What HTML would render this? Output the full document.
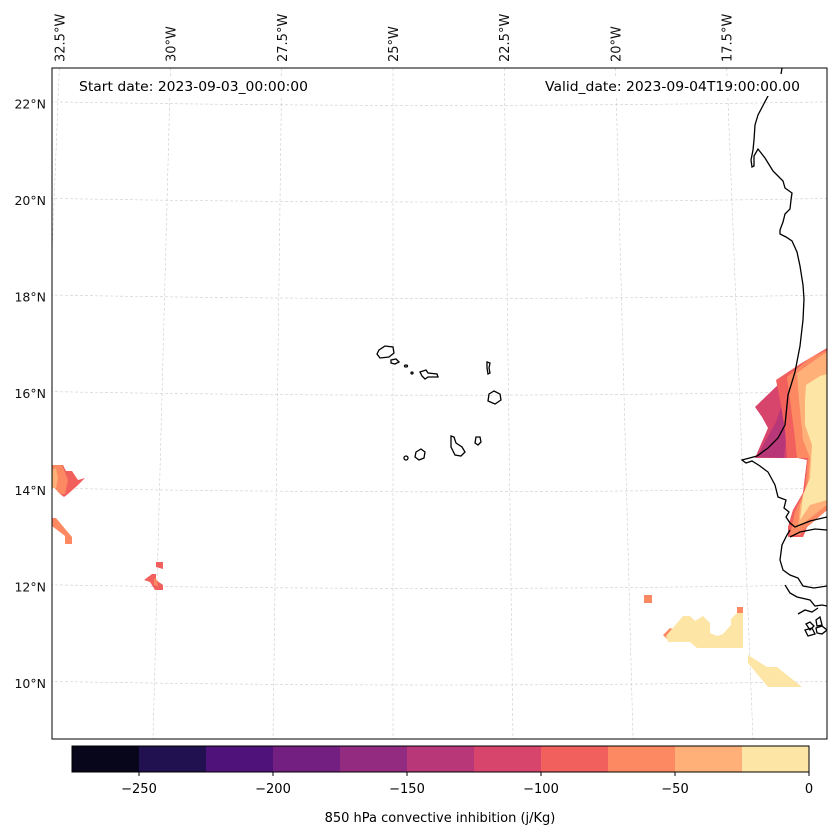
<!DOCTYPE html>
<html><head><meta charset="utf-8"><style>
html,body{margin:0;padding:0;background:#fff}
svg{display:block;font-family:"DejaVu Sans","Liberation Sans",sans-serif}
</style></head><body>
<svg id="c" width="837" height="836" viewBox="0 0 837 836" xmlns="http://www.w3.org/2000/svg">
<defs><clipPath id="mapclip"><rect x="52" y="68" width="775" height="671"/></clipPath></defs>
<rect x="0" y="0" width="837" height="836" fill="#fff"/>
<g id="grid" clip-path="url(#mapclip)"></g>
<g id="fills" clip-path="url(#mapclip)"></g>
<g id="coast" clip-path="url(#mapclip)" fill="none" stroke="#000" stroke-width="1.3"></g>
<rect x="52" y="68" width="775" height="671" fill="none" stroke="#000" stroke-width="1"/>
<g id="labels" font-size="12.5" fill="#111"></g>
<rect x="70" y="76" width="245" height="20" fill="#fff"/>
<text x="79" y="91" font-size="13" textLength="229" lengthAdjust="spacingAndGlyphs">Start date: 2023-09-03_00:00:00</text>
<rect x="538" y="76" width="268" height="20" fill="#fff"/>
<text x="545" y="91" font-size="13" textLength="255" lengthAdjust="spacingAndGlyphs">Valid_date: 2023-09-04T19:00:00.00</text>
<g id="cbar"></g>
<text x="440" y="822" font-size="13" text-anchor="middle">850 hPa convective inhibition (j/Kg)</text>
</svg>
<script>
const levels = [-275,-250,-225,-200,-175,-150,-125,-100,-75,-50,-25,0];
const levelColors = ["#07061a","#221150","#4f127b","#721f81","#932b80","#b73779","#d8456c","#f1605d","#fc8961","#feb078","#fde5a5"];
const cbarTicks = [-250,-200,-150,-100,-50,0];
const latTicks = [10,12,14,16,18,20,22];
const lonTicks = [-32.5,-30,-27.5,-25,-22.5,-20,-17.5];
// filled regions: [bin value, polygon points (screen px of projected grid cells)]
const cinRegions = [
 [-110,[[755,407],[783,380],[800,367],[827,348],[827,510],[807,527],[803,537],[788,537],[788,527],[793,510],[803,493],[807,460],[798,458],[773,458],[755,458],[768,428],[762,417]]],
 [-135,[[757,457],[766,440],[776,422],[784,398],[788,425],[784,458]]],
 [-85,[[776,380],[800,364],[827,348],[827,510],[807,527],[803,537],[788,537],[788,527],[793,510],[803,493],[807,460],[800,458],[787,458],[785,430],[780,400]]],
 [-60,[[787,377],[810,358],[827,350],[827,510],[807,527],[800,535],[790,535],[795,512],[805,490],[808,458],[797,458],[794,430],[790,400]]],
 [-35,[[797,373],[815,360],[827,352],[827,505],[810,518],[798,528],[800,505],[808,485],[810,458],[803,440],[799,400]]],
 [-10,[[806,385],[820,376],[827,374],[827,500],[810,505],[800,520],[803,495],[810,478],[812,445],[805,425],[805,400]]],
 [-60,[[663,635],[670,628],[675,630],[668,640]]],
 [-60,[[737,607],[743,607],[743,613],[737,613]]],
 [-10,[[666,636],[683,616],[690,616],[695,621],[703,616],[710,623],[710,633],[717,636],[723,634],[731,625],[731,619],[737,613],[743,613],[743,648],[697,648],[690,642],[668,642]]],
 [-10,[[748,655],[767,667],[777,667],[802,687],[768,687],[748,663]]],
 [-60,[[644,595],[652,595],[652,603],[644,603]]],
 [-85,[[52,465],[63,465],[66,471],[72,471],[78,480],[85,478],[78,485],[68,494],[64,497],[60,494],[52,485]]],
 [-60,[[52,465],[62,465],[68,480],[65,494],[60,494],[52,485]]],
 [-35,[[52,470],[56,468],[58,478],[56,488],[52,488]]],
 [-60,[[52,518],[56,518],[66,530],[72,537],[72,544],[65,544],[65,536],[52,526]]],
 [-85,[[156,562],[163,562],[163,569],[156,567]]],
 [-85,[[144,580],[152,574],[156,574],[156,580],[163,585],[163,590],[155,590],[150,582]]],
 [-60,[[154,578],[157,580],[158,586],[154,585]]]
];
const NS="http://www.w3.org/2000/svg";
function mk(t,a,p){const e=document.createElementNS(NS,t);for(const k in a)e.setAttribute(k,a[k]);p.appendChild(e);return e;}
const x0=52,x1=827,yTop=68,yBot=739;
function yLat(lat){return 684-(lat-10)*48.3;}
function k(lat){return 48-(lat-8.9)*0.254;}
function xLon(lon,lat){return 393+(lon+25)*k(lat);}
function binColor(v){for(let i=0;i<levels.length-1;i++){if(v>=levels[i]&&v<levels[i+1])return levelColors[i];}return levelColors[levelColors.length-1];}
const g=document.getElementById('grid');
latTicks.forEach(lat=>{
 const yc=yLat(lat);
 const p=mk('path',{d:`M 30 ${yc-3} Q 440 ${yc+5} 850 ${yc-3}`,fill:'none',stroke:'#ccc','stroke-width':0.6,'stroke-dasharray':'3,2'},g);
 
 
});
lonTicks.forEach(lon=>{
 const l=mk('line',{x1:xLon(lon,22.7),y1:yTop,x2:xLon(lon,8.9),y2:yBot,stroke:'#ccc','stroke-width':0.6,'stroke-dasharray':'3,2'},g);
 
 
});
const lb=document.getElementById('labels');
latTicks.forEach(lat=>{
 const t=mk('text',{x:46,y:yLat(lat)+4,'text-anchor':'end'},lb);
 t.textContent=lat+'°N';
 
 
});
lonTicks.forEach(lon=>{
 const xx=xLon(lon,22.7)+5;
 const t=mk('text',{x:0,y:0,transform:`translate(${xx},62) rotate(-90)`,'font-size':13},lb);
 t.textContent=Math.abs(lon)+'°W';
 
 
});
const f=document.getElementById('fills');
cinRegions.forEach(r=>{
 const p=mk('polygon',{points:r[1].map(q=>q.join(',')).join(' '),fill:binColor(r[0])},f);
 
 
});
const c=document.getElementById('coast');
const coastPaths=[
 "M782,68 L781,74 M776,86 L768,96 L758,115 L755,125 L754,140 L753,150 L751,160 L752,167 L754,166 L754,156 L758,149 L765,158 L773,171 L778,176 L783,181 L785,188 L792,193 L791,200 L790,209 L785,214 L783,222 L780,230 L780,234 L786,237 L792,241 L797,252 L800,266 L803,285 L804,299 L803,320 L800,346 L795,372 L788,395 L785,425 L778,438 L768,448 L757,456 L742,460 L746,463 L752,461 L760,466 L768,472 L775,485 L778,497 L786,500 L784,508 L789,512 L786,517 L790,523 L795,527 L810,521 L827,517",
 "M790,537 L800,532 L815,529 L827,530 M790,530 L787,535 L782,545 L780,560 L783,570 L790,575 L798,578 L803,586 L814,588 L827,586 M785,585 L790,593 L797,597 L810,600 L815,606 L822,605 L827,606",
 "M798,614 L805,610 L812,612 L818,608 M806,624 L810,622 L814,626 L810,630 Z M816,620 L820,617 L822,625 L817,626 Z M805,630 L812,628 L815,634 L808,636 Z M816,628 L822,626 L827,630 L822,634 L817,633 Z",
 "M379,350 L385,346 L393,347 L394,353 L389,357 L380,358 L377,354 Z",
 "M391,360 L396,359 L399,362 L395,364 L391,363 Z",
 "M420,372 L426,370 L428,373 L437,374 L438,377 L428,377 L425,379 L422,376 Z",
 "M487,362 L490,363 L489,368 L490,373 L488,374 L487,368 Z",
 "M489,394 L494,391 L500,394 L501,400 L495,404 L488,401 Z",
 "M476,437 L480,437 L481,442 L478,445 L475,443 Z",
 "M451,436 L454,437 L456,443 L462,447 L465,452 L461,456 L455,455 L451,447 Z",
 "M416,452 L421,449 L425,452 L424,458 L419,460 L415,457 Z"
];
coastPaths.forEach(d=>{const p=mk('path',{d:d},c);});
const islands=[[406,366,1.5,1],[412,373,1,1],[406,458,2,2]];
islands.forEach(i=>{const e=mk('ellipse',{cx:i[0],cy:i[1],rx:i[2],ry:i[3]},c);});
const cb=document.getElementById('cbar');
const cx0=72,cx1=809,cy0=746,cy1=772;
function cbX(v){return cx0+(v-levels[0])/(levels[levels.length-1]-levels[0])*(cx1-cx0);}
for(let i=0;i<levelColors.length;i++){
 const r=mk('rect',{x:cbX(levels[i]),y:cy0,width:cbX(levels[i+1])-cbX(levels[i])+0.5,height:cy1-cy0,fill:levelColors[i]},cb);
 
 
}
const ob=mk('rect',{x:cx0,y:cy0,width:cx1-cx0,height:cy1-cy0,fill:'none',stroke:'#000','stroke-width':1},cb);


cbarTicks.forEach(v=>{
 const l=mk('line',{x1:cbX(v),y1:cy1,x2:cbX(v),y2:cy1+4,stroke:'#000'},cb);
 
 
 const t=mk('text',{x:cbX(v),y:793,'text-anchor':'middle','font-size':13},cb);
 t.textContent=v<0?'\u2212'+Math.abs(v):String(v);
 
 
});
</script>
</body></html>
